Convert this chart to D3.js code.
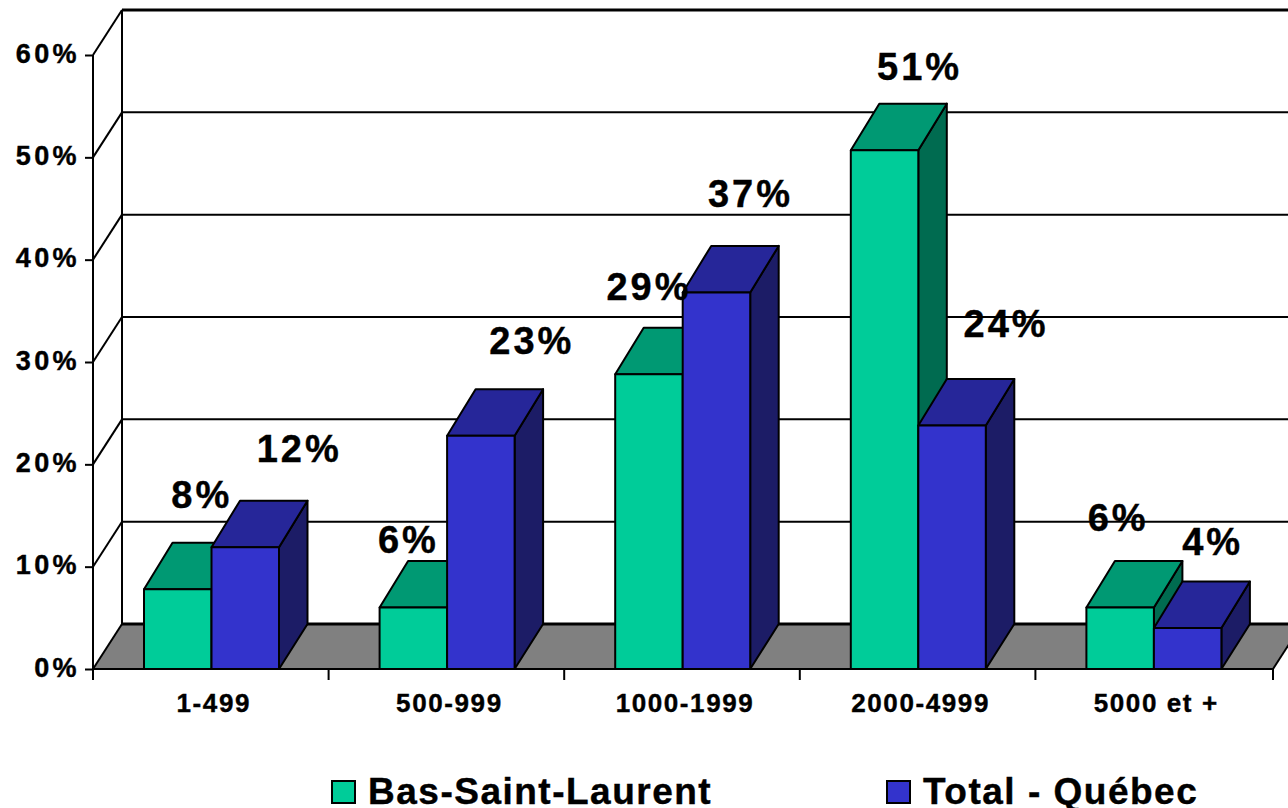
<!DOCTYPE html>
<html>
<head>
<meta charset="utf-8">
<script src="https://cdnjs.cloudflare.com/ajax/libs/d3/7.8.5/d3.min.js"></script>
<style>
  html, body { margin: 0; padding: 0; background: #fff; overflow: hidden; }
  svg { display: block; }
  text { font-family: "Liberation Sans", Arial, sans-serif; font-weight: bold; fill: #000; stroke: #000; stroke-width: 0.4px; }
  .axis path { display: none; }
  .axis line { stroke: #000; stroke-width: 2px; }
  .axis text { font-size: 27px; letter-spacing: 3.4px; }
</style>
</head>
<body>
<div id="chart"></div>
<script>
var categories = ["1-499", "500-999", "1000-1999", "2000-4999", "5000 et +"];
var seriesNames = ["Bas-Saint-Laurent", "Total - Québec"];
var basSaintLaurent = [7.8, 6.0, 28.8, 50.7, 6.0];
var totalQuebec = [11.9, 22.8, 36.8, 23.8, 4.0];
var yTicks = [0, 10, 20, 30, 40, 50, 60];

// hand placed data labels in the original, px from the front top centre of each bar
var labelNudge = [
    [[24, -81], [54, -85]],
    [[-5, -55], [51, -82]],
    [[0, -74], [34, -85]],
    [[35, -70], [54, -88]],
    [[-2, -77], [25, -73]]
];

var colors = [
    {front: "#00cc99", top: "#009973", side: "#006b50"},
    {front: "#3333cc", top: "#262699", side: "#1c1c66"}
];

var width = 1288, height = 808;
var plot = {left: 93, right: 1273, bottom: 669, top: 55};
var wall = {dx: 29, dy: -45};     // floor and walls depth
var bar = {dx: 28.5, dy: -46.5};  // bar depth

var x0 = d3.scaleBand().domain(categories).range([plot.left, plot.right - 2]);
var x1 = d3.scaleBand().domain(seriesNames).range([51, 186]);
var y = d3.scaleLinear().domain([0, 60]).range([plot.bottom, plot.top]);

var svg = d3.select("#chart").append("svg")
    .attr("width", width)
    .attr("height", height);

// floor
svg.append("polygon")
    .attr("fill", "#808080")
    .attr("points", [
        [plot.left, plot.bottom],
        [plot.left + wall.dx, plot.bottom + wall.dy],
        [plot.right + wall.dx, plot.bottom + wall.dy],
        [plot.right, plot.bottom]
    ].join(" "));

// back wall grid lines and the diagonals going to the y axis
var grid = svg.append("g").attr("stroke", "#000").attr("fill", "none");
yTicks.forEach(function (t) {
    grid.append("line")
        .attr("x1", plot.left).attr("y1", y(t))
        .attr("x2", plot.left + wall.dx).attr("y2", y(t) + wall.dy)
        .attr("stroke-width", 2);
    grid.append("line")
        .attr("x1", plot.left + wall.dx).attr("y1", y(t) + wall.dy)
        .attr("x2", width).attr("y2", y(t) + wall.dy)
        .attr("stroke-width", (t === 0 || t === 60) ? 3 : 2);
});
grid.append("line")
    .attr("x1", plot.left + wall.dx).attr("y1", y(0) + wall.dy)
    .attr("x2", plot.left + wall.dx).attr("y2", y(60) + wall.dy)
    .attr("stroke-width", 2);
grid.append("line")
    .attr("x1", plot.right).attr("y1", y(0))
    .attr("x2", plot.right + wall.dx).attr("y2", y(0) + wall.dy)
    .attr("stroke-width", 2);

// bars
var values = [basSaintLaurent, totalQuebec];
categories.forEach(function (cat, i) {
    seriesNames.forEach(function (name, s) {
        var xa = x0(cat) + x1(name),
            xb = xa + x1.bandwidth(),
            yt = y(values[s][i]),
            yb = y(0);
        var g = svg.append("g").attr("stroke", "#000").attr("stroke-width", 2).attr("stroke-linejoin", "round");
        g.append("polygon")
            .attr("fill", colors[s].side)
            .attr("points", [[xb, yt], [xb + bar.dx, yt + bar.dy], [xb + bar.dx, yb + wall.dy], [xb, yb]].join(" "));
        g.append("polygon")
            .attr("fill", colors[s].top)
            .attr("points", [[xa, yt], [xa + bar.dx, yt + bar.dy], [xb + bar.dx, yt + bar.dy], [xb, yt]].join(" "));
        g.append("rect")
            .attr("x", xa).attr("y", yt)
            .attr("width", xb - xa).attr("height", yb - yt)
            .attr("fill", colors[s].front);
    });
});

// axes
var yAxis = svg.append("g")
    .attr("class", "axis")
    .attr("transform", "translate(" + plot.left + ",0)")
    .call(d3.axisLeft(y).tickValues(yTicks).tickSize(8).tickPadding(5).tickFormat(function (d) { return d + "%"; }));
yAxis.selectAll("text").attr("dy", "0.26em");

svg.append("line")
    .attr("x1", plot.left).attr("y1", y(0))
    .attr("x2", plot.left).attr("y2", y(60))
    .attr("stroke", "#000").attr("stroke-width", 2);

svg.append("line")
    .attr("x1", plot.left).attr("y1", y(0))
    .attr("x2", plot.right).attr("y2", y(0))
    .attr("stroke", "#000").attr("stroke-width", 2);

var xAxis = svg.append("g")
    .attr("class", "axis")
    .attr("transform", "translate(3," + plot.bottom + ")")
    .call(d3.axisBottom(x0).tickSize(0).tickPadding(25));
xAxis.selectAll("text").style("font-size", "26px").style("letter-spacing", "1.6px");

// ticks sit on the band edges, not in the middle
categories.concat(["end"]).forEach(function (cat, i) {
    var xt = i < categories.length ? x0(cat) : plot.right;
    svg.append("line")
        .attr("x1", xt).attr("y1", plot.bottom)
        .attr("x2", xt).attr("y2", plot.bottom + 11)
        .attr("stroke", "#000").attr("stroke-width", 2);
});

// data labels
categories.forEach(function (cat, i) {
    seriesNames.forEach(function (name, s) {
        svg.append("text")
            .attr("x", x0(cat) + x1(name) + x1.bandwidth() / 2 + labelNudge[i][s][0])
            .attr("y", y(values[s][i]) + labelNudge[i][s][1])
            .attr("text-anchor", "middle")
            .style("font-size", "38px")
            .style("letter-spacing", "3px")
            .text(Math.round(values[s][i]) + "%");
    });
});

// legend
var legendX = [332, 887];
seriesNames.forEach(function (name, s) {
    svg.append("rect")
        .attr("x", legendX[s]).attr("y", 781)
        .attr("width", 23).attr("height", 22)
        .attr("fill", colors[s].front)
        .attr("stroke", "#000").attr("stroke-width", 2);
    svg.append("text")
        .attr("x", legendX[s] + 36).attr("y", 804)
        .style("font-size", "37px")
        .style("letter-spacing", "1.5px")
        .text(name);
});
</script>
</body>
</html>
